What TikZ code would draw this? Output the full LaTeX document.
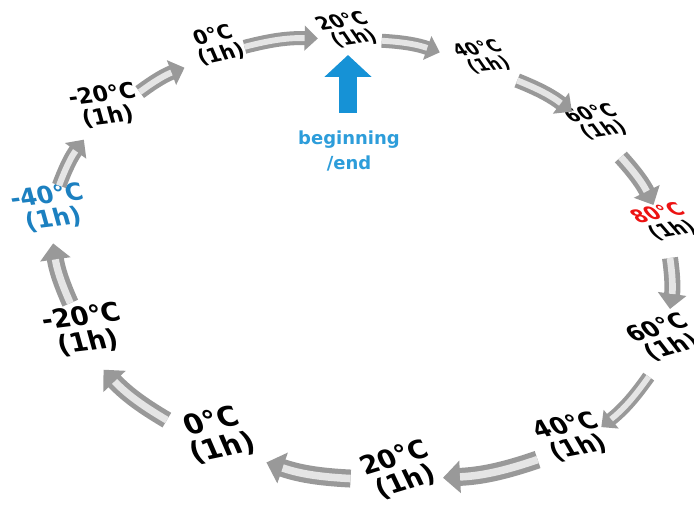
\documentclass[tikz,border=0pt]{standalone}
\usepackage{fontspec}
\setmainfont{DejaVu Sans}
\usetikzlibrary{arrows.meta,calc}

\definecolor{startblue}{RGB}{22,146,214}
\definecolor{coldblue}{RGB}{28,128,192}
\definecolor{hotred}{RGB}{236,18,18}

\tikzset{
    temp/.style={font=\bfseries\fontsize{#1}{#1}\selectfont, align=center, inner sep=0pt},
    flow/.style={line width=#1, draw=black!40, -{Triangle[width=0pt 1.75, length=0pt 0.95]},
        postaction={draw=black!10, line width=0.42*#1, -, shorten >=0.95*#1}},
}

\begin{document}
\begin{tikzpicture}[x=0.75pt, y=0.75pt]
        \useasboundingbox (0,0) rectangle (694,-510);

        % temperature steps, clockwise from the start
        \node (t20s)  at (348,-30)  [temp=14pt,   rotate=8,  xslant=-0.5]  {20°C\\(1h)};
        \node (t40u)  at (483,-57)  [temp=13pt,   rotate=6,  xslant=-0.55] {40°C\\(1h)};
        \node (t60u)  at (597,-122) [temp=14pt,   rotate=8,  xslant=-0.55] {60°C\\(1h)};
        \node (t80)   at (665,-222) [temp=14.2pt, rotate=10, xslant=-0.6]  {\textcolor{hotred}{80°C}\\(1h)};
        \node (t60d)  at (665,-338) [temp=17pt,   rotate=16, xslant=-0.4]  {60°C\\(1h)};
        \node (t40d)  at (572,-437) [temp=18pt,   rotate=11, xslant=-0.35] {40°C\\(1h)};
        \node (t20d)  at (400,-470) [temp=19.5pt, rotate=17, xslant=-0.15] {20°C\\(1h)};
        \node (t0d)   at (217,-435) [temp=21pt,   rotate=12, xslant=-0.2]  {0°C\\(1h)};
        \node (tm20d) at (85,-330)  [temp=19.5pt, rotate=7,  xslant=-0.15] {-20°C\\(1h)};
        \node (tm40)  at (50,-208)  [temp=18pt,   rotate=7,  xslant=-0.15, text=coldblue] {-40°C\\(1h)};
        \node (tm20u) at (105,-106) [temp=16.5pt, rotate=7,  xslant=-0.15] {-20°C\\(1h)};
        \node (t0u)   at (217,-45)  [temp=15pt,   rotate=12, xslant=-0.2]  {0°C\\(1h)};

        % the ring of steps
        \draw[flow=10.5pt] ($(t0u)!0.21!(t20s)+(0,-5)$) to[bend left=8] ($(t0u)!0.77!(t20s)+(0,-5)$);
        \draw[flow=10.5pt] ($(t20s)!0.25!(t40u)+(0,-4)$) to[bend left=8] ($(t20s)!0.68!(t40u)+(0,-4)$);
        \draw[flow=11pt] ($(t40u)!0.30!(t60u)+(0,-4)$) to[bend left=8] ($(t40u)!0.78!(t60u)+(0,-4)$);
        \draw[flow=12pt] ($(t60u)!0.35!(t80)$) to[bend left=8] ($(t60u)!0.83!(t80)$);
        \draw[flow=12pt] ($(t80)!0.31!(t60d)+(5,0)$) to[bend left=8] ($(t80)!0.75!(t60d)+(5,0)$);
        \draw[flow=10pt] ($(t60d)!0.39!(t40d)+(20,0)$) to[bend left=8] ($(t60d)!0.90!(t40d)+(20,0)$);
        \draw[flow=13.5pt] ($(t40d)!0.20!(t20d)+(0,-16)$) to[bend left=8] ($(t40d)!0.75!(t20d)+(0,-16)$);
        \draw[flow=13.5pt] ($(t20d)!0.27!(t0d)+(0,-18)$) to[bend left=8] ($(t20d)!0.73!(t0d)+(0,-18)$);
        \draw[flow=12.75pt] ($(t0d)!0.38!(tm20d)+(0,-25)$) to[bend left=8] ($(t0d)!0.86!(tm20d)+(0,-25)$);
        \draw[flow=12.75pt] ($(tm20d)!0.22!(tm40)+(-7,0)$) to[bend left=8] ($(tm20d)!0.71!(tm40)+(-7,0)$);
        \draw[flow=11pt] ($(tm40)!0.22!(tm20u)+(-3,0)$) to[bend left=8] ($(tm40)!0.67!(tm20u)+(-3,0)$);
        \draw[flow=11pt] ($(tm20u)!0.31!(t0u)+(0,-5)$) to[bend left=8] ($(tm20u)!0.71!(t0u)+(0,-5)$);

        % where the cycle starts
        \coordinate (upfrom) at (348,-113);
        \coordinate (upto) at (348,-55);
        \draw[line width=13.5pt, startblue, -{Triangle[width=0pt 2.55, length=0pt 1.22]}] (upfrom) -- (upto);
        \node (startlbl) at (349,-151) [font=\bfseries\fontsize{13.5pt}{19pt}\selectfont, align=center, text=startblue!90!white] {beginning\\/end};

    \end{tikzpicture}
\end{document}
